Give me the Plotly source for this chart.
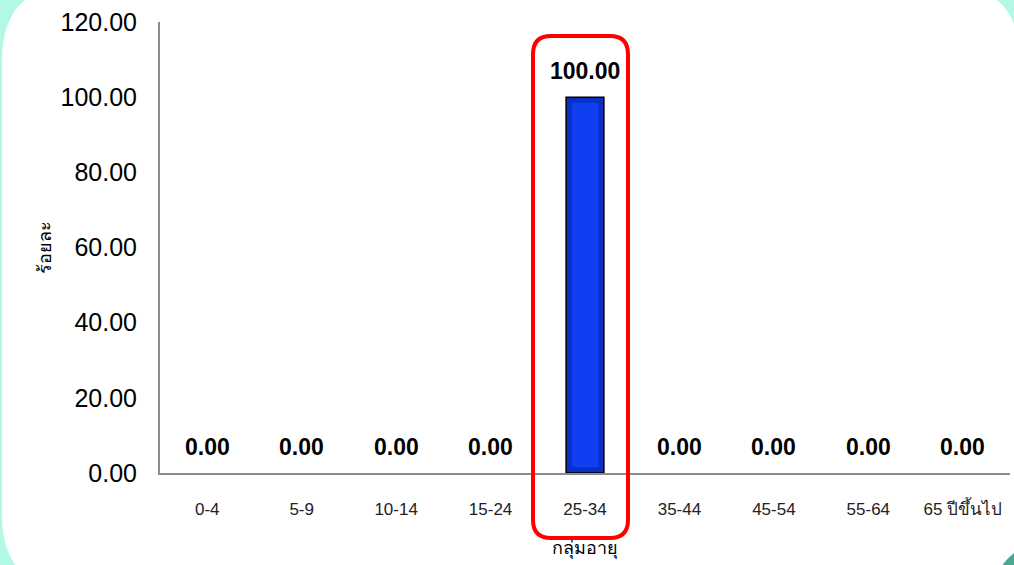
import plotly.graph_objects as go

# Age groups and their percentages
age_groups = ["0-4", "5-9", "10-14", "15-24", "25-34", "35-44", "45-54", "55-64", "65 ปีขึ้นไป"]
percent = [0, 0, 0, 0, 100, 0, 0, 0, 0]
y_ticks = [0, 20, 40, 60, 80, 100, 120]
highlight_group = "25-34"

W, H = 1014, 565
M_L, M_R, M_T, M_B = 160, 4, 22, 92
PLOT_W = W - M_L - M_R
PLOT_H = H - M_T - M_B


def px(x):
    return (x - M_L) / PLOT_W


def py(y):
    return (H - M_B - y) / PLOT_H


def rounded_rect(x0, y0, x1, y1, r):
    """SVG path of a rounded rectangle given in pixel space, converted to paper coords."""
    def P(x, y):
        return f"{px(x):.5f},{py(y):.5f}"
    return (
        f"M {P(x0 + r, y0)} L {P(x1 - r, y0)} Q {P(x1, y0)} {P(x1, y0 + r)} "
        f"L {P(x1, y1 - r)} Q {P(x1, y1)} {P(x1 - r, y1)} "
        f"L {P(x0 + r, y1)} Q {P(x0, y1)} {P(x0, y1 - r)} "
        f"L {P(x0, y0 + r)} Q {P(x0, y0)} {P(x0 + r, y0)} Z"
    )


FONT = "Liberation Sans, Arial, sans-serif"

fig = go.Figure()

# main bars with dark outline (no outline where the bar is empty)
fig.add_trace(go.Bar(
    x=age_groups, y=percent, width=0.4,
    marker=dict(color="#0a2fc4",
                line=dict(color="#000000", width=[1.5 if v > 0 else 0 for v in percent])),
    hoverinfo="skip",
))
# lighter centre strip for a bevelled look
fig.add_trace(go.Bar(
    x=age_groups, y=[v * 0.97 for v in percent], base=[v * 0.015 for v in percent], width=0.28,
    marker=dict(color="#0e3ff0", line=dict(width=0)),
    hoverinfo="skip",
))

# value labels above every bar
for g, v in zip(age_groups, percent):
    fig.add_annotation(
        x=g, y=v, xref="x", yref="y", text=f"<b>{v:.2f}</b>",
        showarrow=False, yanchor="bottom", yshift=11,
        font=dict(family=FONT, size=23, color="#000000"),
    )

shapes = [
    # white rounded panel on the mint page
    dict(type="path", xref="paper", yref="paper", layer="below",
         path=rounded_rect(2, -15, 1020, 590, 75),
         fillcolor="#ffffff", line=dict(width=0)),
    # dark teal corner accent
    dict(type="circle", xref="paper", yref="paper", layer="below",
         x0=px(995), x1=px(1085), y0=py(545), y1=py(635),
         fillcolor="#4aa893", line=dict(width=0)),
]

# red frame around the highlighted age group
hi = age_groups.index(highlight_group)
slot = PLOT_W / len(age_groups)
cx = M_L + slot * (hi + 0.5)
shapes.append(dict(
    type="path", xref="paper", yref="paper", layer="above",
    path=rounded_rect(cx - 52, 36, cx + 43, 538, 18),
    fillcolor="rgba(0,0,0,0)", line=dict(color="#ff0000", width=4),
))

fig.add_annotation(
    x=px(32), y=0.5, xref="paper", yref="paper", text="ร้อยละ", textangle=-90,
    showarrow=False, font=dict(family=FONT, size=18, color="#000000"),
)
fig.add_annotation(
    x=0.5, y=py(561), xref="paper", yref="paper", text="กลุ่มอายุ",
    showarrow=False, font=dict(family=FONT, size=18, color="#000000"),
)

fig.update_layout(
    width=W, height=H,
    margin=dict(l=M_L, r=M_R, t=M_T, b=M_B, autoexpand=False),
    paper_bgcolor="#b3f7e5",
    plot_bgcolor="rgba(0,0,0,0)",
    barmode="overlay",
    showlegend=False,
    shapes=shapes,
    xaxis=dict(
        type="category", categoryorder="array", categoryarray=age_groups,
        showline=True, linecolor="#8c8c8c", linewidth=2,
        showgrid=False, ticks="", ticklabelstandoff=20,
        tickfont=dict(family=FONT, size=17, color="#222222"),
    ),
    yaxis=dict(
        range=[0, 120], tickvals=y_ticks, tickformat=".2f",
        showline=True, linecolor="#8c8c8c", linewidth=2,
        showgrid=False, zeroline=False, ticks="", ticklabelstandoff=16,
        tickfont=dict(family=FONT, size=25, color="#000000"),
    ),
)

fig.write_html("out.html")
